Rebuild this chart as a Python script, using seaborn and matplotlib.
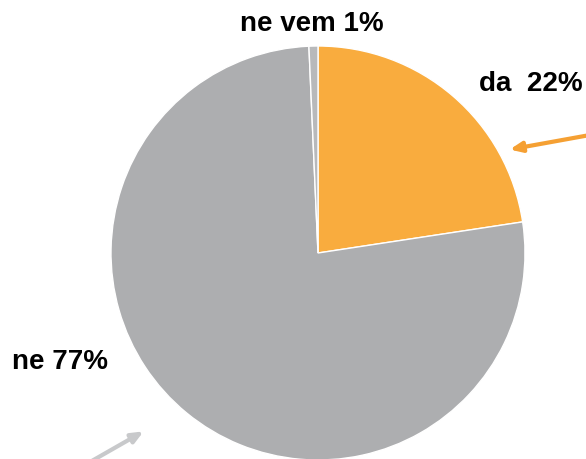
import matplotlib
matplotlib.use("Agg")
import matplotlib.pyplot as plt
import seaborn as sns

labels = ['da', 'ne', 'ne vem']
shares = [22.6, 76.7, 0.7]
label_text = ['da  22%', 'ne 77%', 'ne vem 1%']
colors = ['#F9AC3E', '#ADAEB0', '#B8B9BB']

sns.set_style('white')
plt.rcParams['font.family'] = ['Liberation Sans', 'DejaVu Sans']

fig = plt.figure(figsize=(5.86, 4.59), dpi=100)
ax = fig.add_axes([0, 0, 1, 1])
ax.pie(shares, colors=colors, startangle=90, counterclock=False,
       center=(318, 206), radius=207,
       wedgeprops={'linewidth': 1, 'edgecolor': 'white'})
ax.set_xlim(0, 586)
ax.set_ylim(0, 459)
ax.set_aspect('equal')
ax.axis('off')

font = dict(ha='center', va='center', fontsize=20, fontweight='bold', color='black')
ax.text(312, 435, label_text[2], **font)
ax.text(531, 375, label_text[0], **font)
ax.text(60, 97, label_text[1], **font)

ax.annotate('', xy=(507, 309), xytext=(590, 324),
            arrowprops=dict(arrowstyle='-|>,head_length=0.7,head_width=0.3', color='#F5A033', lw=3))
ax.annotate('', xy=(146, 29), xytext=(90, -3),
            arrowprops=dict(arrowstyle='-|>,head_length=0.7,head_width=0.3', color='#C8C9CB', lw=3))

fig.savefig('out.png', dpi=100)
